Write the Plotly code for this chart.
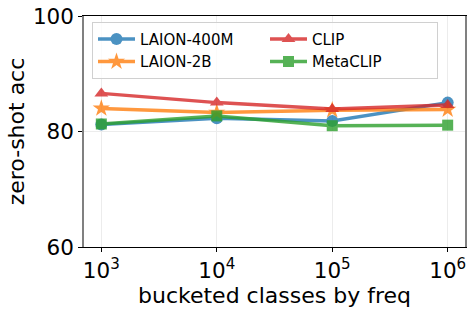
import plotly.graph_objects as go

freq = [1e3, 1e4, 1e5, 1e6]
laion400m = [81.2, 82.3, 81.8, 85.0]
laion2b = [84.0, 83.3, 83.7, 83.8]
clip = [86.6, 85.0, 83.9, 84.6]
metaclip = [81.3, 82.7, 81.0, 81.1]

series = [
    ("LAION-400M", laion400m, "#1f77b4", "circle", 1, 12),
    ("LAION-2B", laion2b, "#ff7f0e", "star", 3, 13),
    ("CLIP", clip, "#d62728", "triangle-up", 2, 12),
    ("MetaCLIP", metaclip, "#2ca02c", "square", 4, 11),
]

fig = go.Figure()
for name, vals, color, sym, rank, ms in series:
    fig.add_trace(go.Scatter(
        x=freq, y=vals, name=name, mode="lines+markers",
        line=dict(color=color, width=3.5),
        marker=dict(symbol=sym, size=ms, color=color, line=dict(width=0)),
        opacity=0.8, legendrank=rank,
    ))

font = "DejaVu Sans"
fig.update_layout(
    width=476, height=312,
    margin=dict(l=84, r=11, t=16, b=65, autoexpand=False),
    paper_bgcolor="white", plot_bgcolor="white",
    font=dict(family=font, color="black"),
    showlegend=True,
    legend=dict(
        orientation="h", x=0.021, y=0.975, xanchor="left", yanchor="top",
        bgcolor="rgba(255,255,255,0.8)", bordercolor="#d0d0d0", borderwidth=1,
        font=dict(size=15, family=font), entrywidth=120, entrywidthmode="pixels",
        itemwidth=37, tracegroupgap=0,
    ),
    xaxis=dict(
        type="log", range=[2.85, 6.15], automargin=False,
        tickvals=freq, ticktext=["10<sup>3</sup>", "10<sup>4</sup>", "10<sup>5</sup>", "10<sup>6</sup>"],
        tickfont=dict(size=21.5), ticks="outside", ticklen=4, tickcolor="black",
        showline=True, linecolor="black", linewidth=1.2, mirror=True,
        showgrid=True, gridcolor="#ececec", gridwidth=1, zeroline=False,
        title=dict(text="bucketed classes by freq", font=dict(size=22), standoff=0),
    ),
    yaxis=dict(
        range=[60, 100], tickvals=[60, 80, 100], automargin=False,
        tickfont=dict(size=21.5), ticks="outside", ticklen=4, tickcolor="black",
        showline=True, linecolor="#808080", linewidth=1.5, mirror=True,
        showgrid=True, gridcolor="#ececec", gridwidth=1, zeroline=False,
        title=dict(text="zero-shot acc", font=dict(size=22), standoff=2),
    ),
)

fig.write_html("out.html", config={"displayModeBar": False},
               post_script="document.body.style.margin='0';")
